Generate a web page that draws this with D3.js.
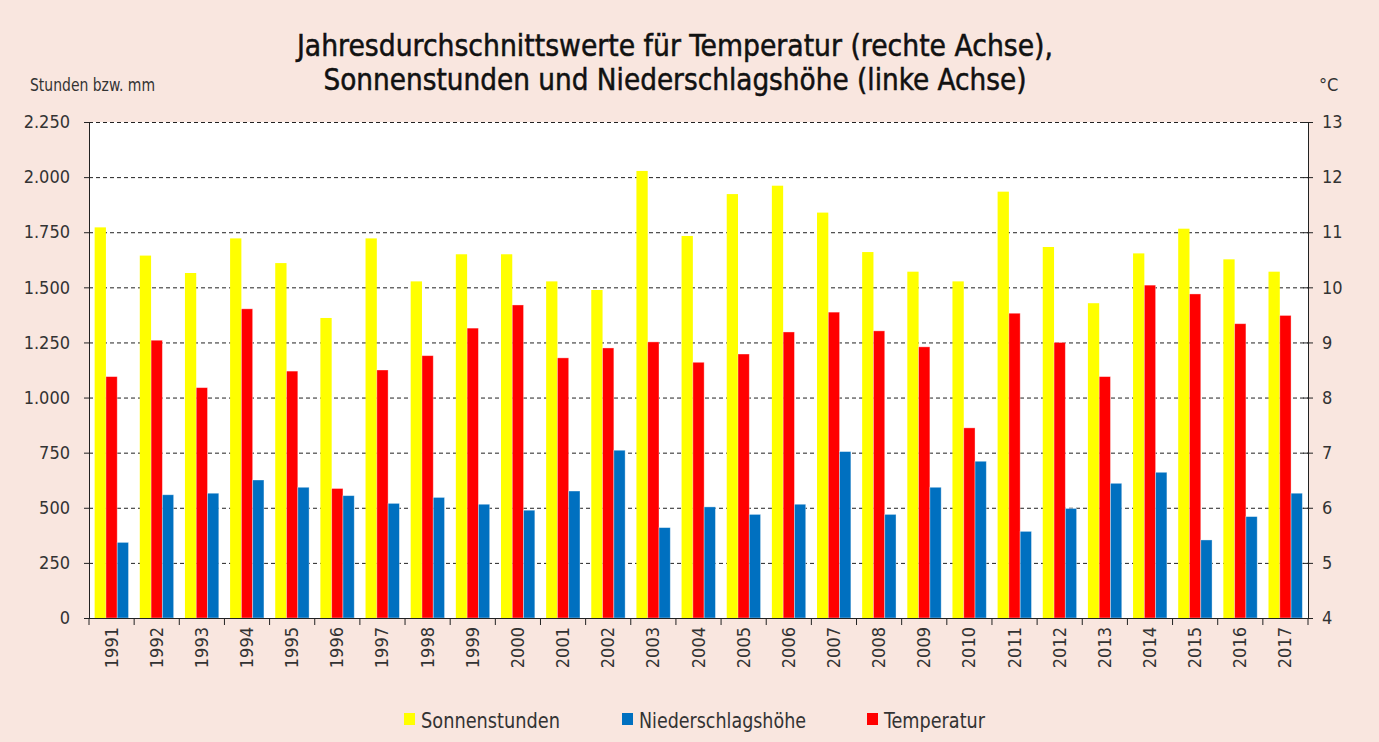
<!DOCTYPE html>
<html><head><meta charset="utf-8">
<script src="https://cdn.jsdelivr.net/npm/d3@7"></script>
<style>
html,body{margin:0;padding:0;background:#f9e6df;}
svg{display:block;}
text{font-family:"DejaVu Sans Condensed","DejaVu Sans",sans-serif;font-stretch:condensed;}
</style></head><body>
<svg id="chart" width="1379" height="742"></svg>
<script>
const years = ["1991","1992","1993","1994","1995","1996","1997","1998","1999","2000","2001","2002","2003","2004","2005","2006","2007","2008","2009","2010","2011","2012","2013","2014","2015","2016","2017"];
const sonnenstunden = [1772,1644,1565,1722,1610,1361,1722,1527,1650,1650,1527,1488,2028,1733,1923,1961,1839,1660,1571,1527,1934,1683,1428,1654,1766,1627,1571];
const niederschlag = [343,559,566,626,593,555,520,547,516,489,576,761,410,504,470,516,755,470,593,711,393,497,611,661,354,460,566];
const temperatur = [8.38,9.04,8.18,9.61,8.48,6.35,8.50,8.76,9.26,9.68,8.72,8.90,9.01,8.64,8.79,9.19,9.55,9.21,8.92,7.45,9.53,9.00,8.38,10.04,9.88,9.34,9.49];
const leftTicks = [0,250,500,750,1000,1250,1500,1750,2000,2250];
const rightTicks = [4,5,6,7,8,9,10,11,12,13];
const titleLines = ["Jahresdurchschnittswerte für Temperatur (rechte Achse),","Sonnenstunden und Niederschlagshöhe (linke Achse)"];
const seriesNames = ["Sonnenstunden","Niederschlagshöhe","Temperatur"];
const seriesColors = {"Sonnenstunden":"#ffff00","Niederschlagshöhe":"#0070c0","Temperatur":"#ff0000"};

const svg = d3.select("#chart");
const L = 89, R = 1308, T = 122, B = 618;
const locale = d3.formatLocale({decimal:",", thousands:".", grouping:[3], currency:["","€"]});
const fmt = locale.format(",");

svg.append("rect").attr("x",L).attr("y",T).attr("width",R-L).attr("height",B-T).attr("fill","#ffffff");

const x0 = d3.scaleBand().domain(years).range([L,R]).padding(0);
const bw = x0.bandwidth();
const order = ["Sonnenstunden","Temperatur","Niederschlagshöhe"];
const x1 = d3.scaleBand().domain(order).range([bw*0.125,bw*0.875]).padding(0);
const yL = d3.scaleLinear().domain([0,2250]).range([B,T]);
const yR = d3.scaleLinear().domain([4,13]).range([B,T]);

// gridlines
svg.append("g").selectAll("line").data(leftTicks.slice(1)).join("line")
  .attr("x1",L).attr("x2",R).attr("y1",d=>yL(d)+0.5).attr("y2",d=>yL(d)+0.5)
  .attr("stroke","#222").attr("stroke-width",1).attr("stroke-dasharray","4,3");

// bars
const rows = years.map((y,i)=>({year:y, vals:[
  {k:"Sonnenstunden", v:sonnenstunden[i], s:yL, base:0},
  {k:"Temperatur", v:temperatur[i], s:yR, base:4},
  {k:"Niederschlagshöhe", v:niederschlag[i], s:yL, base:0}
]}));
const g = svg.append("g").selectAll("g").data(rows).join("g")
  .attr("transform",d=>`translate(${x0(d.year)},0)`);
g.selectAll("rect").data(d=>d.vals).join("rect")
  .attr("x",d=>x1(d.k)).attr("width",x1.bandwidth())
  .attr("y",d=>d.s(d.v)).attr("height",d=>d.s(d.base)-d.s(d.v))
  .attr("fill",d=>seriesColors[d.k])
  .attr("stroke",d=>d.k==="Sonnenstunden"?"none":"#ffffff").attr("stroke-opacity",0.45).attr("stroke-width",0.8);

// axes
const axL = svg.append("g").attr("transform",`translate(${L},0)`)
  .call(d3.axisLeft(yL).tickValues(leftTicks).tickFormat(fmt).tickSize(5).tickPadding(14));
const axR = svg.append("g").attr("transform",`translate(${R},0)`)
  .call(d3.axisRight(yR).tickValues(rightTicks).tickFormat(d=>d).tickSize(5).tickPadding(9));
[axL,axR].forEach(a=>{
  a.select(".domain").attr("stroke","#222");
  a.selectAll(".tick line").attr("stroke","#222");
  a.selectAll("text").attr("font-size",18).attr("fill","#333");
});
axR.selectAll(".tick line").attr("x1",-5);

// x axis
const xg = svg.append("g");
xg.append("line").attr("x1",L).attr("x2",R).attr("y1",B+0.5).attr("y2",B+0.5).attr("stroke","#222");
xg.selectAll("line.t").data(years.concat(["end"])).join("line").attr("class","t")
  .attr("x1",(d,i)=>L+i*bw).attr("x2",(d,i)=>L+i*bw).attr("y1",B).attr("y2",B+7).attr("stroke","#222");
xg.selectAll("text").data(years).join("text")
  .attr("transform",d=>`translate(${x0(d)+bw/2+6},${B+9}) rotate(-90)`)
  .attr("text-anchor","end").attr("font-size",18).attr("fill","#333").text(d=>d);

// axis titles
svg.append("text").attr("x",30).attr("y",91).attr("font-size",17).attr("fill","#333")
  .attr("textLength",125).attr("lengthAdjust","spacingAndGlyphs").text("Stunden bzw. mm");
svg.append("text").attr("x",1319).attr("y",91).attr("font-size",18).attr("fill","#333").text("°C");

// title
const titleW = [756,703];
svg.append("g").selectAll("text").data(titleLines).join("text")
  .attr("x",675).attr("y",(d,i)=>56+i*34).attr("text-anchor","middle")
  .attr("font-size",30).attr("fill","#111").attr("stroke","#111").attr("stroke-width",0.5)
  .attr("textLength",(d,i)=>titleW[i]).attr("lengthAdjust","spacingAndGlyphs").text(d=>d);

// legend
const legX = [404,622,867];
const legW = [139,167,101];
const lg = svg.append("g").selectAll("g").data(seriesNames).join("g")
  .attr("transform",(d,i)=>`translate(${legX[i]},0)`);
lg.append("rect").attr("x",0).attr("y",713).attr("width",11).attr("height",12).attr("fill",d=>seriesColors[d]);
lg.append("text").attr("x",17).attr("y",728).attr("font-size",22).attr("fill","#333")
  .attr("textLength",(d,i)=>legW[i]).attr("lengthAdjust","spacingAndGlyphs").text(d=>d);
</script>
</body></html>
